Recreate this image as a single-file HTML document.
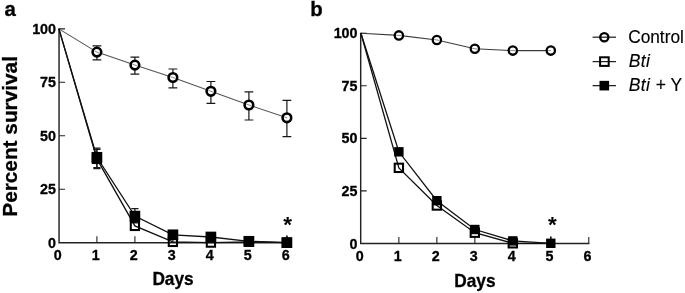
<!DOCTYPE html>
<html lang="en"><head><meta charset="utf-8"><title>Percent survival</title>
<style>
html,body{margin:0;padding:0;background:#fff}
body{width:685px;height:293px;overflow:hidden}
svg{display:block}
text{font-family:"Liberation Sans",Arial,Helvetica,sans-serif;fill:#000}
.tk{font-size:14.3px;font-weight:700;stroke:#000;stroke-width:.3px}
.ax{font-size:17.7px;font-weight:700;stroke:#000;stroke-width:.3px}
.yl{font-size:20.8px;font-weight:700;stroke:#000;stroke-width:.3px}
.pl{font-size:20.4px;font-weight:700;stroke:#000;stroke-width:.3px}
.lg{font-size:19.2px;stroke:#000;stroke-width:.15px}
.st{font-size:22.5px;font-weight:700}
</style></head><body>
<svg width="685" height="293" viewBox="0 0 685 293">
<rect width="685" height="293" fill="#fff"/>
<text transform="translate(17.1 136.4) rotate(-90)" text-anchor="middle" class="yl">Percent survival</text>
<path d="M59.05 28.25V242.7H287.5" fill="none" stroke="#222" stroke-width="1.45"/>
<path d="M59.05 189.24h6M59.05 135.77h6M59.05 82.31h6M59.05 28.85h6M96.9 242.7v-6.5M134.9 242.7v-6.5M172.9 242.7v-6.5M210.9 242.7v-6.5M248.9 242.7v-6.5M286.9 242.7v-6.5" stroke="#222" stroke-width="1.1" fill="none"/>
<text x="56" y="247.8" text-anchor="end" class="tk">0</text>
<text x="56" y="194.34" text-anchor="end" class="tk">25</text>
<text x="56" y="140.87" text-anchor="end" class="tk">50</text>
<text x="56" y="87.41" text-anchor="end" class="tk">75</text>
<text x="56" y="33.95" text-anchor="end" class="tk">100</text>
<text x="57.7" y="259.8" text-anchor="middle" class="tk">0</text>
<text x="95.7" y="259.8" text-anchor="middle" class="tk">1</text>
<text x="133.7" y="259.8" text-anchor="middle" class="tk">2</text>
<text x="171.7" y="259.8" text-anchor="middle" class="tk">3</text>
<text x="209.7" y="259.8" text-anchor="middle" class="tk">4</text>
<text x="247.7" y="259.8" text-anchor="middle" class="tk">5</text>
<text x="285.7" y="259.8" text-anchor="middle" class="tk">6</text>
<text transform="translate(173 285.3) scale(0.975 1)" text-anchor="middle" class="ax">Days</text>
<text x="4.6" y="15.9" class="pl">a</text>
<polyline points="58.9,28.85 96.9,52.1 134.9,65.1 172.9,77.5 210.9,91.3 248.9,105 286.9,117.8" fill="none" stroke="#555" stroke-width="1.1"/>
<polyline points="58.9,28.85 96.9,158.9 134.9,225.9 172.9,241.9 210.9,242.6 248.9,241.8 286.9,242.6" fill="none" stroke="#111" stroke-width="1.3"/>
<polyline points="58.9,28.85 96.9,157.3 134.9,216.1 172.9,234.8 210.9,237 248.9,241.3 286.9,242.6" fill="none" stroke="#111" stroke-width="1.3"/>
<path d="M96.9 45.9V48.1M96.9 56.1V59.9M92.5 45.9h8.8M92.5 59.9h8.8" stroke="#181818" stroke-width="1.2" fill="none"/>
<path d="M134.9 57.1V61.1M134.9 69.1V74.1M130.5 57.1h8.8M130.5 74.1h8.8" stroke="#181818" stroke-width="1.2" fill="none"/>
<path d="M172.9 69V73.5M172.9 81.5V87.8M168.5 69h8.8M168.5 87.8h8.8" stroke="#181818" stroke-width="1.2" fill="none"/>
<path d="M210.9 81.5V87.3M210.9 95.3V103.3M206.5 81.5h8.8M206.5 103.3h8.8" stroke="#181818" stroke-width="1.2" fill="none"/>
<path d="M248.9 91.9V101M248.9 109V120M244.5 91.9h8.8M244.5 120h8.8" stroke="#181818" stroke-width="1.2" fill="none"/>
<path d="M286.9 100.3V113.8M286.9 121.8V136.7M282.5 100.3h8.8M282.5 136.7h8.8" stroke="#181818" stroke-width="1.2" fill="none"/>
<path d="M96.9 148.1V154.9M96.9 162.9V168.7M93.3 148.1h7.2M93.3 168.7h7.2" stroke="#181818" stroke-width="1.2" fill="none"/>
<path d="M96.9 149.3V153.3M96.9 161.3V167.5M93.3 149.3h7.2M93.3 167.5h7.2" stroke="#181818" stroke-width="1.2" fill="none"/>
<path d="M134.9 208.6V212.1M134.9 220.1V223M131.3 208.6h7.2M131.3 223h7.2" stroke="#181818" stroke-width="1.2" fill="none"/>
<path d="M286.9 236V238.6M286 236h1.8M286 242.6h1.8" stroke="#181818" stroke-width="1.2" fill="none"/>
<rect x="92.78" y="154.78" width="8.25" height="8.25" fill="none" stroke="#000" stroke-width="2.05"/>
<rect x="130.78" y="221.78" width="8.25" height="8.25" fill="none" stroke="#000" stroke-width="2.05"/>
<rect x="168.78" y="237.78" width="8.25" height="8.25" fill="none" stroke="#000" stroke-width="2.05"/>
<rect x="206.78" y="238.47" width="8.25" height="8.25" fill="none" stroke="#000" stroke-width="2.05"/>
<rect x="244.78" y="237.68" width="8.25" height="8.25" fill="none" stroke="#000" stroke-width="2.05"/>
<rect x="282.77" y="238.47" width="8.25" height="8.25" fill="none" stroke="#000" stroke-width="2.05"/>
<rect x="91.55" y="151.95" width="10.7" height="10.7" fill="#000"/>
<rect x="129.55" y="210.75" width="10.7" height="10.7" fill="#000"/>
<rect x="167.55" y="229.45" width="10.7" height="10.7" fill="#000"/>
<rect x="205.55" y="231.65" width="10.7" height="10.7" fill="#000"/>
<rect x="243.55" y="235.95" width="10.7" height="10.7" fill="#000"/>
<rect x="281.55" y="237.25" width="10.7" height="10.7" fill="#000"/>
<circle cx="96.9" cy="52.1" r="4.3" fill="#fff" stroke="#000" stroke-width="2.6"/>
<path d="M94.55 50.98L99.25 53.22" stroke="#8a8a8a" stroke-width="1"/>
<circle cx="134.9" cy="65.1" r="4.3" fill="#fff" stroke="#000" stroke-width="2.6"/>
<path d="M132.43 64.28L137.37 65.92" stroke="#8a8a8a" stroke-width="1"/>
<circle cx="172.9" cy="77.5" r="4.3" fill="#fff" stroke="#000" stroke-width="2.6"/>
<path d="M170.44 76.65L175.36 78.35" stroke="#8a8a8a" stroke-width="1"/>
<circle cx="210.9" cy="91.3" r="4.3" fill="#fff" stroke="#000" stroke-width="2.6"/>
<path d="M208.46 90.42L213.34 92.18" stroke="#8a8a8a" stroke-width="1"/>
<circle cx="248.9" cy="105" r="4.3" fill="#fff" stroke="#000" stroke-width="2.6"/>
<path d="M246.44 104.14L251.36 105.86" stroke="#8a8a8a" stroke-width="1"/>
<circle cx="286.9" cy="117.8" r="4.3" fill="#fff" stroke="#000" stroke-width="2.6"/>
<path d="M284.44 116.97L287.18 117.9" stroke="#8a8a8a" stroke-width="1"/>
<text x="287.6" y="231.6" text-anchor="middle" class="st">*</text>
<path d="M360.7 32.7V243.4H589.38" fill="none" stroke="#222" stroke-width="1.45"/>
<path d="M360.7 190.88h6M360.7 138.35h6M360.7 85.82h6M360.7 33.3h6M398.88 243.4v-6.5M436.86 243.4v-6.5M474.84 243.4v-6.5M512.82 243.4v-6.5M550.8 243.4v-6.5M588.78 243.4v-6.5" stroke="#222" stroke-width="1.1" fill="none"/>
<text x="357.5" y="248.5" text-anchor="end" class="tk">0</text>
<text x="357.5" y="195.97" text-anchor="end" class="tk">25</text>
<text x="357.5" y="143.45" text-anchor="end" class="tk">50</text>
<text x="357.5" y="90.92" text-anchor="end" class="tk">75</text>
<text x="357.5" y="38.4" text-anchor="end" class="tk">100</text>
<text x="359.7" y="260.6" text-anchor="middle" class="tk">0</text>
<text x="397.68" y="260.6" text-anchor="middle" class="tk">1</text>
<text x="435.66" y="260.6" text-anchor="middle" class="tk">2</text>
<text x="473.64" y="260.6" text-anchor="middle" class="tk">3</text>
<text x="511.62" y="260.6" text-anchor="middle" class="tk">4</text>
<text x="549.6" y="260.6" text-anchor="middle" class="tk">5</text>
<text x="587.58" y="260.6" text-anchor="middle" class="tk">6</text>
<text transform="translate(474.9 286.8) scale(0.975 1)" text-anchor="middle" class="ax">Days</text>
<text x="310.3" y="16.1" class="pl">b</text>
<polyline points="360.9,33.3 398.88,35.4 436.86,40 474.84,48.75 512.82,50.6 550.8,50.6" fill="none" stroke="#3c3c3c" stroke-width="1.1"/>
<polyline points="360.9,33.3 398.88,167.85 436.86,205.5 474.84,232.7 512.82,243.3 550.8,243.4" fill="none" stroke="#111" stroke-width="1.3"/>
<polyline points="360.9,33.3 398.88,151.8 436.86,200.7 474.84,229.5 512.82,240.9 550.8,243.3" fill="none" stroke="#111" stroke-width="1.3"/>
<path d="M550.8 237V239.3M549.9 237h1.8M549.9 243.3h1.8" stroke="#181818" stroke-width="1.2" fill="none"/>
<rect x="394.7" y="163.67" width="8.35" height="8.35" fill="none" stroke="#000" stroke-width="2.05"/>
<rect x="432.68" y="201.32" width="8.35" height="8.35" fill="none" stroke="#000" stroke-width="2.05"/>
<rect x="470.66" y="228.52" width="8.35" height="8.35" fill="none" stroke="#000" stroke-width="2.05"/>
<rect x="508.64" y="239.12" width="8.35" height="8.35" fill="none" stroke="#000" stroke-width="2.05"/>
<rect x="394.18" y="147.1" width="9.4" height="9.4" fill="#000"/>
<rect x="432.16" y="196" width="9.4" height="9.4" fill="#000"/>
<rect x="470.14" y="224.8" width="9.4" height="9.4" fill="#000"/>
<rect x="508.12" y="236.2" width="9.4" height="9.4" fill="#000"/>
<rect x="546.1" y="238.6" width="9.4" height="9.4" fill="#000"/>
<circle cx="398.88" cy="35.4" r="4.15" fill="#fff" stroke="#000" stroke-width="2.3"/>
<path d="M396.29 35.17L401.47 35.63" stroke="#8a8a8a" stroke-width="1"/>
<circle cx="436.86" cy="40" r="4.15" fill="#fff" stroke="#000" stroke-width="2.3"/>
<path d="M434.3 39.55L439.42 40.45" stroke="#8a8a8a" stroke-width="1"/>
<circle cx="474.84" cy="48.75" r="4.15" fill="#fff" stroke="#000" stroke-width="2.3"/>
<path d="M472.26 48.39L477.42 49.11" stroke="#8a8a8a" stroke-width="1"/>
<circle cx="512.82" cy="50.6" r="4.15" fill="#fff" stroke="#000" stroke-width="2.3"/>
<path d="M510.22 50.54L515.42 50.66" stroke="#8a8a8a" stroke-width="1"/>
<circle cx="550.8" cy="50.6" r="4.15" fill="#fff" stroke="#000" stroke-width="2.3"/>
<path d="M548.2 50.6L551.1 50.6" stroke="#8a8a8a" stroke-width="1"/>
<text x="552.5" y="232.3" text-anchor="middle" class="st">*</text>
<path d="M592.6 37.2H616" stroke="#222" stroke-width="1.25"/>
<circle cx="604.3" cy="37.2" r="4.1" fill="none" stroke="#000" stroke-width="2.3"/>
<text transform="translate(628.2 42.5) scale(0.9 1)" class="lg">Control</text>
<path d="M592.6 61.6H616" stroke="#222" stroke-width="1.25"/>
<rect x="600.1" y="57.3" width="8.6" height="8.6" fill="none" stroke="#000" stroke-width="2"/>
<text transform="translate(628.7 67.2) scale(0.91 1)" class="lg"><tspan font-style="italic" letter-spacing="0.5">Bti</tspan></text>
<path d="M592.6 85.65H616" stroke="#222" stroke-width="1.25"/>
<rect x="599.5" y="80.85" width="9.6" height="9.6" fill="#000"/>
<text transform="translate(628.7 91.25) scale(0.91 1)" class="lg"><tspan font-style="italic" letter-spacing="0.5">Bti</tspan><tspan dx="0.6"> + Y</tspan></text>
</svg></body></html>
